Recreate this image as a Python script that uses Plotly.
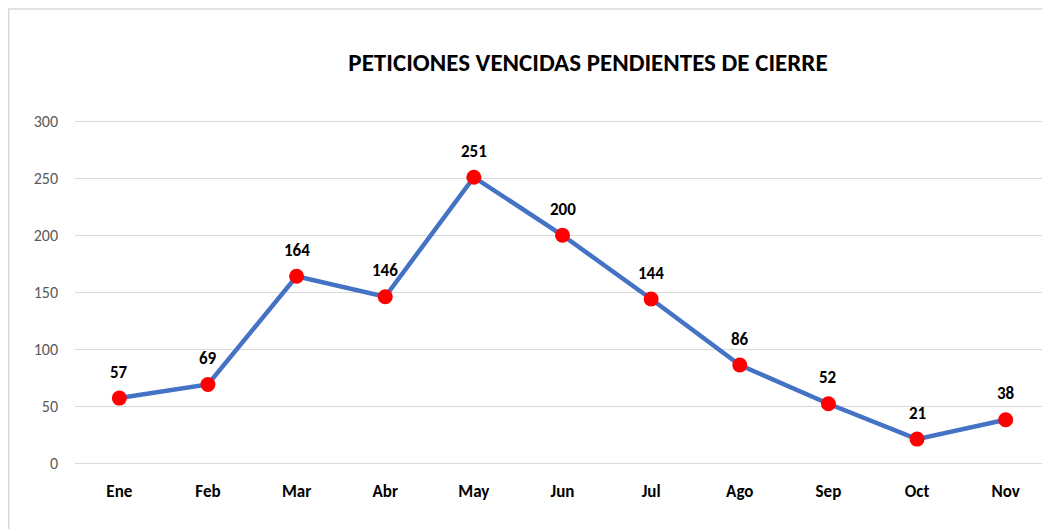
import plotly.graph_objects as go

months = ["Ene", "Feb", "Mar", "Abr", "May", "Jun", "Jul", "Ago", "Sep", "Oct", "Nov"]
values = [57, 69, 164, 146, 251, 200, 144, 86, 52, 21, 38]
y_ticks = [0, 50, 100, 150, 200, 250, 300]
title_text = "PETICIONES VENCIDAS PENDIENTES DE CIERRE"

FONT = "Carlito, Lato, 'Open Sans', sans-serif"

fig = go.Figure()
fig.add_trace(go.Scatter(
    x=months, y=values, mode="lines+markers",
    line=dict(color="#4472C4", width=4.5),
    marker=dict(color="#FF0000", size=15, line=dict(width=0)),
    hoverinfo="skip", showlegend=False,
))

for m, v in zip(months, values):
    fig.add_annotation(x=m, y=v, text=f"<b>{v}</b>", showarrow=False,
                       yshift=26, font=dict(family=FONT, size=17, color="#000000"))

# outer chart border
fig.add_shape(type="rect", xref="paper", yref="paper",
              x0=-0.068, x1=1.05, y0=-0.4, y1=1.3046,
              line=dict(color="#D9D9D9", width=1.5), fillcolor="rgba(0,0,0,0)")

fig.update_layout(
    width=1050, height=529,
    margin=dict(l=67, r=8, t=107, b=74),
    paper_bgcolor="white", plot_bgcolor="white",
    title=dict(text=f"<b>{title_text}</b>", x=580 / 1050, xanchor="center",
               y=1 - 54 / 529, yanchor="middle",
               font=dict(family=FONT, size=25, color="#000000")),
    xaxis=dict(type="category", range=[-0.5, len(months) - 0.5],
               showgrid=False, showline=False, zeroline=False,
               tickfont=dict(family=FONT, size=17, color="#000000"),
               ticklabelstandoff=16,
               tickvals=months, ticktext=[f"<b>{m}</b>" for m in months]),
    yaxis=dict(range=[0, 305.6], tickvals=y_ticks,
               showgrid=True, gridcolor="#D9D9D9", gridwidth=1.3,
               zeroline=True, zerolinecolor="#D9D9D9", zerolinewidth=1.3,
               showline=False,
               tickfont=dict(family=FONT, size=16, color="#595959"),
               ticklabelstandoff=16),
)

fig.write_html("out.html")
